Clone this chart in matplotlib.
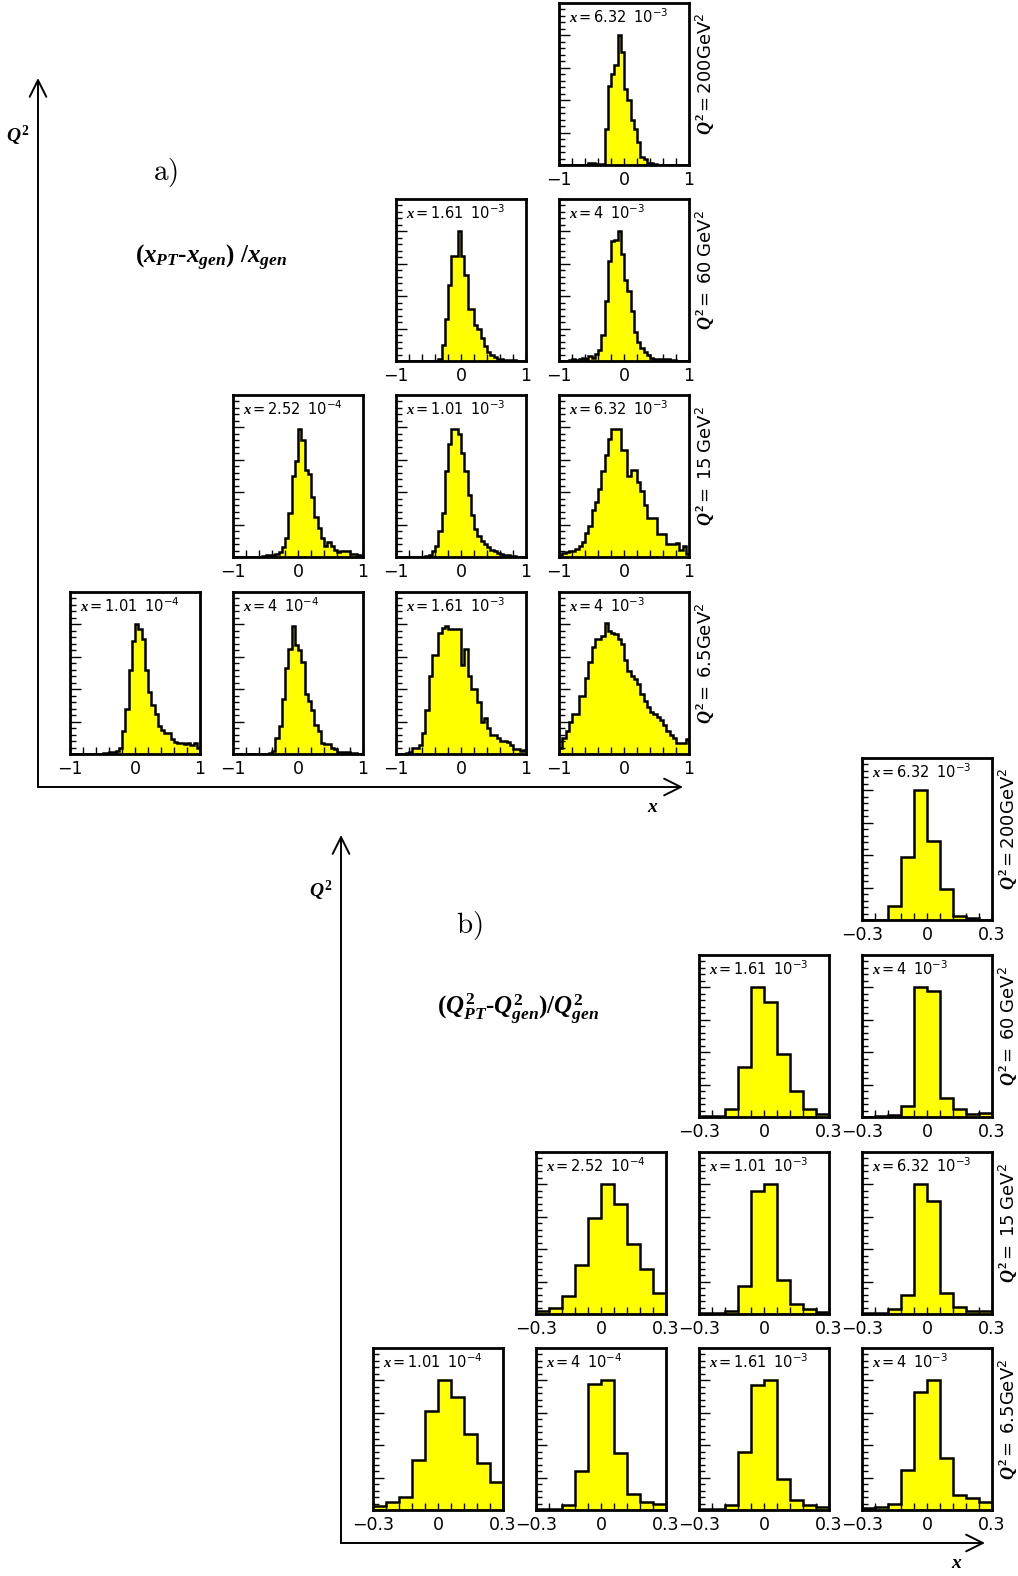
import numpy as np
import matplotlib.pyplot as plt
from matplotlib.ticker import FuncFormatter

plt.rcParams['font.family'] = ['DejaVu Sans']
plt.rcParams['mathtext.fontset'] = 'custom'
plt.rcParams['mathtext.rm'] = 'Liberation Serif:bold'
plt.rcParams['mathtext.bf'] = 'Liberation Serif:bold'
plt.rcParams['mathtext.it'] = 'Liberation Serif:bold:italic'
plt.rcParams['mathtext.sf'] = 'DejaVu Sans'

# ---- a) (x_PT - x_gen)/x_gen, 40 bins in [-1, 1], heights as fraction of the frame
a_q200_x632m3 = [0, 0, 0, 0, 0, 0, 0, 0, 0, 0.015, 0.01, 0.005, 0.005, 0.005, 0.22, 0.49, 0.56, 0.62, 0.80, 0.70,
                 0.47, 0.40, 0.28, 0.22, 0.14, 0.05, 0.04, 0.015, 0.01, 0.005, 0, 0, 0, 0, 0, 0, 0, 0, 0, 0]
a_q60_x161m3 = [0, 0, 0, 0, 0, 0, 0, 0, 0, 0, 0, 0, 0, 0.015, 0.10, 0.26, 0.47, 0.65, 0.65, 0.80,
                0.65, 0.53, 0.32, 0.32, 0.22, 0.20, 0.14, 0.09, 0.055, 0.035, 0.025, 0.015, 0.01, 0.008, 0.006, 0.005, 0.004, 0, 0, 0]
a_q60_x4m3 = [0, 0, 0, 0.005, 0.01, 0.005, 0.015, 0.02, 0.015, 0.03, 0.02, 0.045, 0.07, 0.16, 0.37, 0.62, 0.74, 0.75, 0.80, 0.66,
              0.50, 0.43, 0.31, 0.18, 0.12, 0.08, 0.055, 0.035, 0.02, 0.015, 0.01, 0.01, 0.01, 0.012, 0.008, 0.005, 0, 0, 0, 0]
a_q15_x252m4 = [0, 0, 0, 0, 0, 0, 0, 0, 0, 0.005, 0.01, 0.01, 0.015, 0.02, 0.03, 0.06, 0.12, 0.27, 0.50, 0.59,
                0.79, 0.72, 0.54, 0.51, 0.37, 0.25, 0.18, 0.12, 0.07, 0.09, 0.066, 0.045, 0.03, 0.04, 0.035, 0.035, 0.02, 0.02, 0.015, 0.015]
a_q15_x101m3 = [0, 0, 0, 0, 0, 0, 0, 0, 0, 0.005, 0.015, 0.035, 0.07, 0.16, 0.27, 0.53, 0.70, 0.79, 0.79, 0.76,
                0.64, 0.53, 0.38, 0.26, 0.17, 0.13, 0.10, 0.08, 0.06, 0.045, 0.035, 0.025, 0.02, 0.015, 0.01, 0.008, 0.005, 0, 0, 0]
a_q15_x632m3 = [0.015, 0.025, 0.03, 0.035, 0.035, 0.05, 0.065, 0.09, 0.15, 0.19, 0.29, 0.34, 0.42, 0.53, 0.63, 0.73, 0.79, 0.79, 0.79, 0.66,
                0.66, 0.50, 0.54, 0.54, 0.46, 0.41, 0.32, 0.24, 0.24, 0.24, 0.14, 0.14, 0.14, 0.08, 0.08, 0.08, 0.085, 0.045, 0.065, 0.02]
a_q65_x101m4 = [0, 0, 0, 0, 0, 0, 0, 0, 0, 0, 0.005, 0.005, 0.01, 0.015, 0.02, 0.04, 0.14, 0.28, 0.52, 0.70,
                0.80, 0.77, 0.71, 0.52, 0.38, 0.30, 0.25, 0.17, 0.15, 0.13, 0.13, 0.09, 0.077, 0.07, 0.07, 0.062, 0.066, 0.056, 0.066, 0.035]
a_q65_x4m4 = [0, 0, 0, 0, 0, 0, 0, 0, 0, 0, 0, 0.005, 0.02, 0.10, 0.17, 0.34, 0.53, 0.65, 0.79, 0.67,
              0.64, 0.57, 0.37, 0.33, 0.27, 0.18, 0.14, 0.07, 0.06, 0.06, 0.04, 0.03, 0.015, 0.015, 0.01, 0.01, 0.005, 0.005, 0, 0]
a_q65_x161m3 = [0, 0, 0, 0.005, 0.01, 0.036, 0.036, 0.057, 0.13, 0.27, 0.48, 0.61, 0.61, 0.75, 0.78, 0.79, 0.77, 0.77, 0.77, 0.77,
                0.55, 0.65, 0.48, 0.40, 0.40, 0.32, 0.20, 0.22, 0.16, 0.12, 0.12, 0.10, 0.078, 0.078, 0.073, 0.057, 0.03, 0.03, 0.02, 0.025]
a_q65_x4m3 = [0.04, 0.10, 0.14, 0.20, 0.25, 0.25, 0.36, 0.36, 0.47, 0.57, 0.66, 0.71, 0.71, 0.73, 0.81, 0.76, 0.75, 0.74, 0.71, 0.68,
              0.58, 0.51, 0.48, 0.46, 0.43, 0.37, 0.33, 0.29, 0.26, 0.25, 0.23, 0.21, 0.18, 0.14, 0.12, 0.10, 0.07, 0.07, 0.07, 0.09]

# ---- b) (Q2_PT - Q2_gen)/Q2_gen, 10 bins in [-0.3, 0.3]
b_q200_x632m3 = [0, 0, 0.085, 0.39, 0.80, 0.49, 0.19, 0.027, 0.012, 0]
b_q60_x161m3 = [0.004, 0.004, 0.05, 0.31, 0.80, 0.71, 0.39, 0.16, 0.05, 0.02]
b_q60_x4m3 = [0.002, 0.004, 0.01, 0.07, 0.80, 0.78, 0.12, 0.05, 0.02, 0.027]
b_q15_x252m4 = [0.02, 0.04, 0.11, 0.30, 0.59, 0.80, 0.68, 0.43, 0.28, 0.13]
b_q15_x101m3 = [0.005, 0.005, 0.02, 0.17, 0.76, 0.80, 0.21, 0.06, 0.03, 0.01]
b_q15_x632m3 = [0.005, 0.005, 0.03, 0.12, 0.80, 0.70, 0.13, 0.045, 0.02, 0.02]
b_q65_x101m4 = [0.025, 0.05, 0.08, 0.31, 0.61, 0.80, 0.70, 0.47, 0.29, 0.17]
b_q65_x4m4 = [0.004, 0.008, 0.03, 0.24, 0.78, 0.80, 0.35, 0.10, 0.05, 0.035]
b_q65_x161m3 = [0.005, 0.005, 0.03, 0.36, 0.77, 0.80, 0.19, 0.06, 0.03, 0.02]
b_q65_x4m3 = [0.01, 0.02, 0.04, 0.25, 0.73, 0.80, 0.32, 0.09, 0.075, 0.05]

# x-bin labels (mantissa, exponent) and Q2 row labels
x_labels = {"1.01e-4": ("1.01", "-4"), "4e-4": ("4", "-4"), "2.52e-4": ("2.52", "-4"),
            "1.01e-3": ("1.01", "-3"), "1.61e-3": ("1.61", "-3"), "4e-3": ("4", "-3"), "6.32e-3": ("6.32", "-3")}
q2_labels = [r"=200GeV", r"=\ 60\ GeV", r"=\ 15\ GeV", r"=\ 6.5GeV"]

W, H = 1018, 1576
PW, PH = 130, 162
fig = plt.figure(figsize=(W / 100, H / 100), dpi=100)

ov = fig.add_axes([0, 0, 1, 1])
ov.set_xlim(0, W)
ov.set_ylim(H, 0)
ov.axis('off')

tick_fmt = FuncFormatter(lambda v, p: ('%g' % v).replace('-', '\u2212'))


def arrow(x0, y0, x1, y1):
    ov.annotate('', xy=(x1, y1), xytext=(x0, y0),
                arrowprops=dict(arrowstyle='->,head_length=0.6,head_width=0.3', lw=1.4, color='black',
                                shrinkA=0, shrinkB=0, mutation_scale=20))


def panel(left, top, vals, lo, hi, xkey, minor_step, q2=None):
    ax = fig.add_axes([left / W, 1 - (top + PH) / H, PW / W, PH / H])
    edges = np.linspace(lo, hi, len(vals) + 1)
    ax.stairs(vals, edges, fill=True, color='#ffff00')
    ax.stairs(vals, edges, color='black', lw=1.8)
    ax.set_xlim(lo, hi)
    ax.set_ylim(0, 1)
    ax.set_xticks([lo, 0, hi])
    ax.xaxis.set_major_formatter(tick_fmt)
    ax.set_xticks(np.arange(lo, hi + 1e-9, minor_step), minor=True)
    ax.set_yticks(np.arange(0, 1, 0.2))
    ax.set_yticks(np.arange(0, 1, 0.04), minor=True)
    ax.tick_params(axis='x', which='both', direction='in', length=5, width=1, labelsize=12.5, pad=4)
    ax.tick_params(axis='y', which='major', direction='in', length=8, width=1, labelleft=False)
    ax.tick_params(axis='y', which='minor', direction='in', length=4, width=1)
    for s in ax.spines.values():
        s.set_linewidth(2)
    m, e = x_labels[xkey]
    ax.text(0.08, 0.915, r"$x\mathsf{=%s\ \ 10^{%s}}$" % (m, e), transform=ax.transAxes,
            fontsize=10.5, ha='left', va='center')
    if q2 is not None:
        ax.text(1.13, 0.56, r"$Q^2\mathsf{%s^2}$" % q2, transform=ax.transAxes, rotation=90,
                fontsize=13, ha='center', va='center')
    return ax


# ---- part a)
ca = [70, 233, 396, 559]
ra = [3, 199, 395, 592]
panel(ca[3], ra[0], a_q200_x632m3, -1, 1, "6.32e-3", 0.2, q2_labels[0])
panel(ca[2], ra[1], a_q60_x161m3, -1, 1, "1.61e-3", 0.2)
panel(ca[3], ra[1], a_q60_x4m3, -1, 1, "4e-3", 0.2, q2_labels[1])
panel(ca[1], ra[2], a_q15_x252m4, -1, 1, "2.52e-4", 0.2)
panel(ca[2], ra[2], a_q15_x101m3, -1, 1, "1.01e-3", 0.2)
panel(ca[3], ra[2], a_q15_x632m3, -1, 1, "6.32e-3", 0.2, q2_labels[2])
panel(ca[0], ra[3], a_q65_x101m4, -1, 1, "1.01e-4", 0.2)
panel(ca[1], ra[3], a_q65_x4m4, -1, 1, "4e-4", 0.2)
panel(ca[2], ra[3], a_q65_x161m3, -1, 1, "1.61e-3", 0.2)
panel(ca[3], ra[3], a_q65_x4m3, -1, 1, "4e-3", 0.2, q2_labels[3])

# ---- part b)
cb = [373, 536, 699, 862]
rb = [758, 955, 1152, 1348]
panel(cb[3], rb[0], b_q200_x632m3, -0.3, 0.3, "6.32e-3", 0.06, q2_labels[0])
panel(cb[2], rb[1], b_q60_x161m3, -0.3, 0.3, "1.61e-3", 0.06)
panel(cb[3], rb[1], b_q60_x4m3, -0.3, 0.3, "4e-3", 0.06, q2_labels[1])
panel(cb[1], rb[2], b_q15_x252m4, -0.3, 0.3, "2.52e-4", 0.06)
panel(cb[2], rb[2], b_q15_x101m3, -0.3, 0.3, "1.01e-3", 0.06)
panel(cb[3], rb[2], b_q15_x632m3, -0.3, 0.3, "6.32e-3", 0.06, q2_labels[2])
panel(cb[0], rb[3], b_q65_x101m4, -0.3, 0.3, "1.01e-4", 0.06)
panel(cb[1], rb[3], b_q65_x4m4, -0.3, 0.3, "4e-4", 0.06)
panel(cb[2], rb[3], b_q65_x161m3, -0.3, 0.3, "1.61e-3", 0.06)
panel(cb[3], rb[3], b_q65_x4m3, -0.3, 0.3, "4e-3", 0.06, q2_labels[3])

# ---- big axes, arrows and titles
arrow(38, 787, 38, 78)
arrow(38, 787, 683, 787)
ov.text(18, 136, r"$Q^2$", fontsize=14, ha='center', va='center')
ov.text(653, 806, r"$x$", fontsize=14, ha='center', va='center')
ov.text(165, 172, r"$\mathrm{a)}$", math_fontfamily='cm', fontsize=21, ha='center', va='center')
ov.text(211, 258, r"$(x_{PT}\text{-}x_{gen})\ /x_{gen}$", fontsize=18, ha='center', va='center')

arrow(341, 1543, 341, 835)
arrow(341, 1543, 985, 1543)
ov.text(321, 891, r"$Q^2$", fontsize=14, ha='center', va='center')
ov.text(957, 1562, r"$x$", fontsize=14, ha='center', va='center')
ov.text(469, 925, r"$\mathrm{b)}$", math_fontfamily='cm', fontsize=21, ha='center', va='center')
ov.text(518, 1009, r"$(Q^2_{PT}\text{-}Q^2_{gen})/Q^2_{gen}$", fontsize=18, ha='center', va='center')

fig.savefig('out.png', dpi=100)
